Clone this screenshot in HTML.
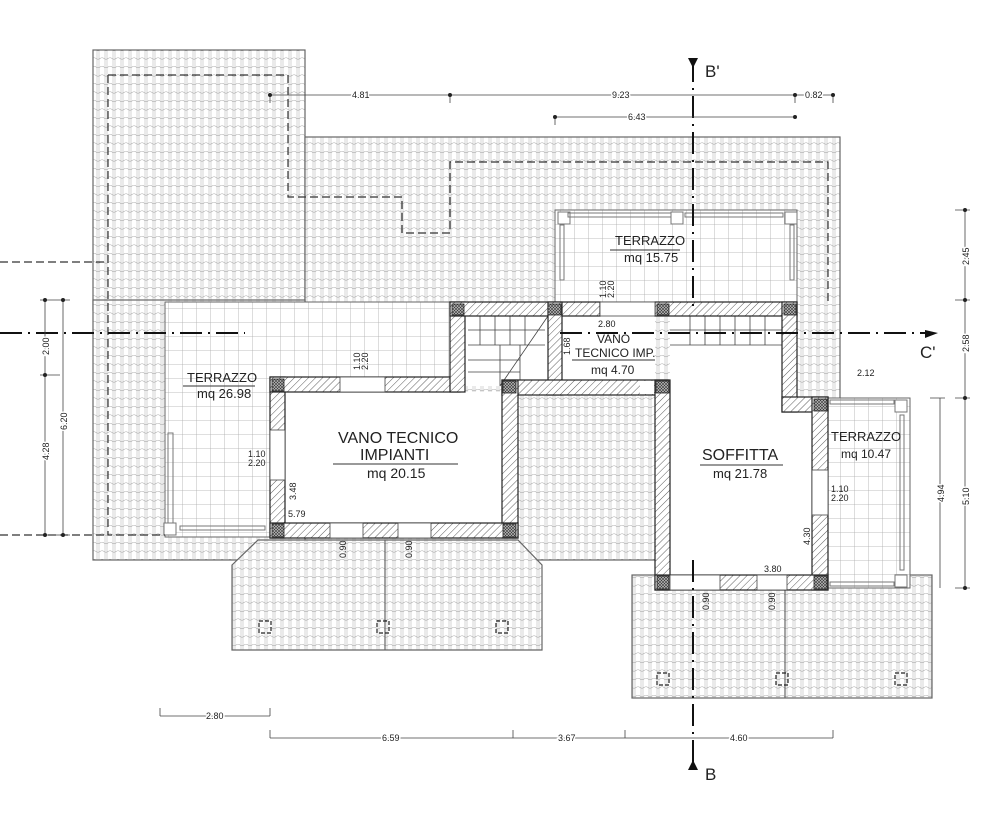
<!DOCTYPE html>
<html><head><meta charset="utf-8"><style>
html,body{margin:0;padding:0;background:#fff;}
svg{display:block;}
text{font-family:"Liberation Sans",sans-serif;fill:#222;}
.d{font-size:9px;fill:#555;}
.r{font-size:14px;}
</style></head><body>
<svg width="1000" height="832" viewBox="0 0 1000 832" xmlns="http://www.w3.org/2000/svg">
<defs>
<pattern id="tile" width="8" height="8.5" patternUnits="userSpaceOnUse">
<rect width="8" height="8.5" fill="#fff"/>
<path d="M1 0V8.5M3 0V8.5" stroke="#bbb" stroke-width="0.6"/>
<path d="M0 7.5Q2 9 4 7.5Q6 6 8 7.5" stroke="#aaa" stroke-width="0.6" fill="none"/>
</pattern>
<pattern id="grid" width="14" height="14" patternUnits="userSpaceOnUse">
<rect width="14" height="14" fill="#fff"/>
<path d="M0 0H14M0 0V14" stroke="#aaa" stroke-width="0.8"/>
</pattern>
<pattern id="hatch" width="5" height="5" patternUnits="userSpaceOnUse" patternTransform="rotate(45)">
<rect width="5" height="5" fill="#fff"/>
<path d="M0 0V5" stroke="#333" stroke-width="0.8"/>
</pattern>
<pattern id="cross" width="3" height="3" patternUnits="userSpaceOnUse">
<rect width="3" height="3" fill="#bbb"/>
<path d="M0 0L3 3M3 0L0 3" stroke="#333" stroke-width="0.6"/>
</pattern>
</defs>

<g stroke="#666" stroke-width="1.2">
<rect x="93" y="50" width="212" height="260" fill="url(#tile)"/>
<rect x="305" y="137" width="535" height="423" fill="url(#tile)"/>
<rect x="93" y="300" width="212" height="260" fill="url(#tile)"/>
<polygon points="232,565 258,540 518,540 542,565 542,650 232,650" fill="url(#tile)"/>
<line x1="385" y1="540" x2="385" y2="650"/>
<rect x="632" y="575" width="300" height="123" fill="url(#tile)"/>
<line x1="785" y1="575" x2="785" y2="698"/>
</g>
<g stroke="#666" stroke-width="1">
<rect x="165" y="302" width="290" height="235" fill="url(#grid)"/>
<rect x="555" y="210" width="242" height="92" fill="url(#grid)"/>
<rect x="826" y="398" width="84" height="190" fill="url(#grid)"/>
</g>
<g fill="none" stroke="#777" stroke-width="1">
<rect x="168" y="433" width="5" height="90"/>
<rect x="180" y="526" width="85" height="4"/>
<rect x="164" y="523" width="12" height="12" fill="#fff"/>
<rect x="558" y="212" width="12" height="12" fill="#fff"/>
<rect x="671" y="212" width="12" height="12" fill="#fff"/>
<rect x="785" y="212" width="12" height="12" fill="#fff"/>
<rect x="568" y="213" width="103" height="4"/><rect x="685" y="213" width="98" height="4"/>
<rect x="560" y="225" width="4" height="55"/><rect x="790" y="225" width="4" height="55"/>
<rect x="895" y="400" width="12" height="12" fill="#fff"/>
<rect x="895" y="575" width="12" height="12" fill="#fff"/>
<rect x="900" y="415" width="4" height="155"/>
<rect x="830" y="582" width="64" height="4"/><rect x="830" y="400" width="64" height="4"/>
</g>

<rect x="285" y="392" width="217" height="131" fill="#fff"/>
<rect x="465" y="316" width="83" height="70" fill="#fff"/>
<rect x="562" y="316" width="93" height="64" fill="#fff"/>
<rect x="670" y="316" width="112" height="96" fill="#fff"/>
<rect x="670" y="400" width="142" height="175" fill="#fff"/>
<g stroke="#444" stroke-width="0.8" fill="none">
<path d="M468 330H545M468 345H545M468 360H520M468 372H520M480 316V345M495 316V345M510 316V345M525 316V345M500 345V386M520 345V386M548 316L500 386"/>
<path d="M670 330H782M690 316V345M705 316V345M720 316V345M735 316V345M750 316V345M765 316V345M670 345H782"/>
</g>

<g fill="url(#hatch)" stroke="#222" stroke-width="1.2">
<rect x="270" y="377" width="15" height="161"/>
<rect x="270" y="377" width="190" height="15"/>
<rect x="450" y="302" width="15" height="90"/>
<rect x="450" y="302" width="150" height="14"/>
<rect x="655" y="302" width="142" height="14"/>
<rect x="548" y="302" width="14" height="93"/>
<rect x="502" y="380" width="166" height="15"/>
<rect x="502" y="380" width="16" height="158"/>
<rect x="270" y="523" width="248" height="15"/>
<rect x="655" y="380" width="15" height="210"/>
<rect x="782" y="302" width="15" height="110"/>
<rect x="782" y="397" width="46" height="15"/>
<rect x="812" y="397" width="16" height="193"/>
<rect x="655" y="575" width="173" height="15"/>
</g>
<g fill="#fff" stroke="#444" stroke-width="0.8">
<rect x="340" y="377" width="45" height="15"/>
<rect x="330" y="523" width="33" height="15"/>
<rect x="398" y="523" width="33" height="15"/>
<rect x="270" y="430" width="15" height="50"/>
<rect x="600" y="302" width="55" height="14"/>
<rect x="812" y="470" width="16" height="45"/>
<rect x="670" y="575" width="50" height="15"/>
<rect x="757" y="575" width="30" height="15"/>
<rect x="640" y="381" width="14" height="13" stroke="none"/>
</g>
<g fill="url(#cross)" stroke="#222" stroke-width="0.8">
<rect x="272" y="379" width="12" height="12"/><rect x="452" y="304" width="12" height="11"/>
<rect x="548" y="304" width="13" height="11"/><rect x="503" y="381" width="13" height="12"/>
<rect x="272" y="524" width="12" height="13"/><rect x="503" y="524" width="13" height="13"/>
<rect x="657" y="304" width="12" height="11"/><rect x="784" y="304" width="12" height="11"/>
<rect x="657" y="576" width="12" height="13"/><rect x="814" y="576" width="13" height="13"/>
<rect x="814" y="399" width="13" height="12"/><rect x="656" y="381" width="13" height="12"/>
</g>

<g fill="none" stroke="#333" stroke-width="1.2" stroke-dasharray="8,4">
<path d="M108 75H288V197H402V233H450V162H828V305"/>
<path d="M108 75V535H165"/>
<path d="M0 262H108M0 535H108"/>
</g>
<g stroke="#111" stroke-width="2" stroke-dasharray="22,6,2,6" fill="none">
<line x1="0" y1="333" x2="245" y2="333"/>
<line x1="560" y1="333" x2="930" y2="333"/>
<line x1="693" y1="60" x2="693" y2="310"/>
<line x1="693" y1="560" x2="693" y2="770"/>
</g>
<path d="M688 58L693 68L698 58Z M688 770L693 760L698 770Z" fill="#111"/>
<path d="M925 338L938 333L925 330Z" fill="#111"/>
<text x="705" y="77" font-size="17">B'</text>
<text x="705" y="780" font-size="17">B</text>
<text x="920" y="358" font-size="17">C'</text>

<g stroke="#444" stroke-width="0.8" fill="none">
<path d="M270 95H833M270 95V103M450 95V103M795 95V103M833 95V103"/>
<path d="M555 117H795M555 117V125"/>
<path d="M160 716H270M160 716V708M270 716V708"/>
<path d="M270 738H833M270 738V730M513 738V730M625 738V730M833 738V730"/>
<path d="M965 210V588M955 210H970M955 300H970M955 398H970M955 588H970"/>
<path d="M940 398V588M930 398H945"/>
<path d="M45 300V535M63 300V535M40 300H70M40 375H60M40 535H70"/>
</g>
<g fill="#222">
<circle cx="270" cy="95" r="2"/><circle cx="450" cy="95" r="2"/><circle cx="795" cy="95" r="2"/><circle cx="833" cy="95" r="2"/>
<circle cx="555" cy="117" r="2"/><circle cx="795" cy="117" r="2"/>
<circle cx="965" cy="210" r="2"/><circle cx="965" cy="300" r="2"/><circle cx="965" cy="398" r="2"/><circle cx="965" cy="588" r="2"/>
<circle cx="45" cy="300" r="2"/><circle cx="45" cy="375" r="2"/><circle cx="45" cy="535" r="2"/><circle cx="63" cy="300" r="2"/><circle cx="63" cy="535" r="2"/>
</g>
<g class="d">
<g stroke="#fff" stroke-width="3" style="paint-order:stroke">
<text x="352" y="98">4.81</text>
<text x="612" y="98">9.23</text>
<text x="805" y="98">0.82</text>
<text x="628" y="120">6.43</text>
<text x="206" y="719">2.80</text>
<text x="382" y="741">6.59</text>
<text x="558" y="741">3.67</text>
<text x="730" y="741">4.60</text>
<text transform="translate(969,265) rotate(-90)">2.45</text>
<text transform="translate(969,352) rotate(-90)">2.58</text>
<text transform="translate(969,505) rotate(-90)">5.10</text>
<text transform="translate(944,502) rotate(-90)">4.94</text>
<text transform="translate(49,355) rotate(-90)">2.00</text>
<text transform="translate(67,430) rotate(-90)">6.20</text>
<text transform="translate(49,460) rotate(-90)">4.28</text>
</g>
<text x="857" y="376">2.12</text>
<text x="598" y="327">2.80</text>
<text x="764" y="572">3.80</text>
<text x="288" y="517">5.79</text>
<text transform="translate(570,355) rotate(-90)">1.68</text>
<text transform="translate(296,500) rotate(-90)">3.48</text>
<text transform="translate(810,545) rotate(-90)">4.30</text>
<text transform="translate(360,370) rotate(-90)">1.10</text>
<text transform="translate(368,370) rotate(-90)">2.20</text>
<text transform="translate(606,298) rotate(-90)">1.10</text>
<text transform="translate(614,298) rotate(-90)">2.20</text>
<text x="248" y="457">1.10</text><text x="248" y="466">2.20</text>
<text x="831" y="492">1.10</text><text x="831" y="501">2.20</text>
<text transform="translate(346,558) rotate(-90)">0.90</text>
<text transform="translate(412,558) rotate(-90)">0.90</text>
<text transform="translate(709,610) rotate(-90)">0.90</text>
<text transform="translate(775,610) rotate(-90)">0.90</text>
</g>

<g fill="none" stroke="#222" stroke-width="1.2" stroke-dasharray="4,2">
<rect x="259" y="621" width="12" height="12"/><rect x="377" y="621" width="12" height="12"/><rect x="496" y="621" width="12" height="12"/>
<rect x="657" y="673" width="12" height="12"/><rect x="776" y="673" width="12" height="12"/><rect x="895" y="673" width="12" height="12"/>
</g>

<text x="187" y="382" font-size="13">TERRAZZO</text>
<line x1="183" y1="386" x2="255" y2="386" stroke="#333"/>
<text x="197" y="398" font-size="13">mq 26.98</text>
<text x="338" y="443" font-size="16">VANO TECNICO</text>
<text x="360" y="460" font-size="16">IMPIANTI</text>
<line x1="333" y1="464" x2="458" y2="464" stroke="#333"/>
<text x="367" y="478" font-size="14">mq 20.15</text>
<text x="615" y="245" font-size="13">TERRAZZO</text>
<line x1="610" y1="250" x2="680" y2="250" stroke="#333"/>
<text x="624" y="262" font-size="13">mq 15.75</text>
<text x="597" y="343" font-size="12">VANO</text>
<text x="575" y="357" font-size="12">TECNICO IMP.</text>
<line x1="572" y1="360" x2="655" y2="360" stroke="#333"/>
<text x="591" y="374" font-size="12">mq 4.70</text>
<text x="702" y="460" font-size="16">SOFFITTA</text>
<line x1="700" y1="465" x2="783" y2="465" stroke="#333"/>
<text x="713" y="478" font-size="13">mq 21.78</text>
<text x="831" y="441" font-size="13">TERRAZZO</text>
<text x="841" y="458" font-size="12">mq 10.47</text>
</svg>
</body></html>
